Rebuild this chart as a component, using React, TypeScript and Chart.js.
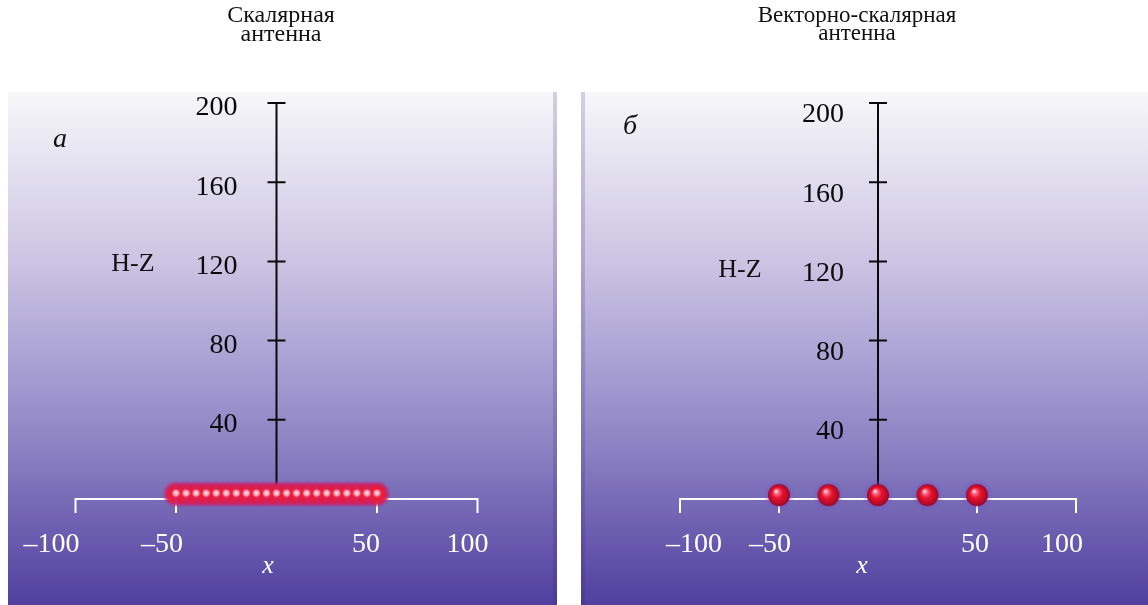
import { useEffect, useRef } from "react";
import { Chart, registerables } from "chart.js";

Chart.register(...registerables);

// ---------------- data ----------------
const TITLE_LEFT = ["Скалярная", "антенна"];
const TITLE_RIGHT = ["Векторно-скалярная", "антенна"];
const PANEL_LEFT = "а";
const PANEL_RIGHT = "б";
const Y_AXIS_LABEL = "H-Z";
const X_AXIS_LABEL = "x";

const X_TICKS = [-100, -50, 50, 100];
const X_TICK_LABELS = ["–100", "–50", "50", "100"];
const Y_TICKS = [40, 80, 120, 160, 200];
const Y_TICK_LABELS = ["40", "80", "120", "160", "200"];

// scalar antenna: 21 elements
const SCALAR_X = [-50, -45, -40, -35, -30, -25, -20, -15, -10, -5, 0, 5, 10, 15, 20, 25, 30, 35, 40, 45, 50];
const SCALAR_Y = [3, 3, 3, 3, 3, 3, 3, 3, 3, 3, 3, 3, 3, 3, 3, 3, 3, 3, 3, 3, 3];

// vector-scalar antenna: 5 elements
const VECTOR_X = [-50, -25, 0, 25, 50];
const VECTOR_Y = [2, 2, 2, 2, 2];

// ---------------- styling ----------------
const SERIF = "'Liberation Serif', 'Times New Roman', serif";
const BG_STOPS: [number, string][] = [
  [0, "#f7f7fb"],
  [0.1, "#eae8f3"],
  [0.33, "#cbc4e3"],
  [0.55, "#a59dd2"],
  [0.7, "#8b80c2"],
  [0.85, "#6d5fb0"],
  [1, "#5040a0"],
];

type PanelCfg = {
  width: number;
  padding: { left: number; right: number; top: number; bottom: number };
  bgX0: number;
  bgX1: number;
  bgTop: number;
  edgeX: number;
  title: string[];
  titleFont: number;
  titleX: number;
  titleY: number[];
  letter: string;
  letterPos: [number, number];
  hzPos: [number, number];
  yLabelDx: number;
  yLabelDy: number;
  xLabelDx: number[];
  xLabelGap: number;
  xTitlePos: [number, number];
};

const LEFT_CFG: PanelCfg = {
  width: 566,
  padding: { left: 75.5, right: 88.5, top: 103, bottom: 102 },
  bgX0: 8,
  bgX1: 557,
  bgTop: 92,
  edgeX: 553,
  title: TITLE_LEFT,
  titleFont: 24,
  titleX: 281,
  titleY: [16, 35],
  letter: PANEL_LEFT,
  letterPos: [60, 140],
  hzPos: [133, 264],
  yLabelDx: -39,
  yLabelDy: 5,
  xLabelDx: [-24, -14, -11, -10],
  xLabelGap: 46,
  xTitlePos: [268, 566],
};

const RIGHT_CFG: PanelCfg = {
  width: 574,
  padding: { left: 106, right: 72, top: 103, bottom: 102 },
  bgX0: 7,
  bgX1: 574,
  bgTop: 92,
  edgeX: 7,
  title: TITLE_RIGHT,
  titleFont: 23,
  titleX: 283,
  titleY: [16, 34],
  letter: PANEL_RIGHT,
  letterPos: [56, 127],
  hzPos: [166, 270],
  yLabelDx: -34,
  yLabelDy: 12,
  xLabelDx: [14, -9, -2, -14],
  xLabelGap: 46,
  xTitlePos: [288, 566],
};

function makeSprite(size: number, draw: (ctx: CanvasRenderingContext2D, c: number) => void) {
  const cv = document.createElement("canvas");
  cv.width = size;
  cv.height = size;
  const ctx = cv.getContext("2d")!;
  draw(ctx, size / 2);
  return cv;
}

function glowSprite() {
  return makeSprite(28, (ctx, c) => {
    const g = ctx.createRadialGradient(c, c + 1, 0, c, c + 1, 14);
    g.addColorStop(0, "rgba(240,30,55,1)");
    g.addColorStop(0.5, "rgba(232,28,58,1)");
    g.addColorStop(0.72, "rgba(210,30,90,0.85)");
    g.addColorStop(1, "rgba(170,60,170,0)");
    ctx.fillStyle = g;
    ctx.fillRect(0, 0, 28, 28);
  });
}

function dotSprite() {
  return makeSprite(9, (ctx, c) => {
    const g = ctx.createRadialGradient(c, c, 0, c, c, 4.5);
    g.addColorStop(0, "rgba(255,225,232,1)");
    g.addColorStop(0.55, "rgba(255,170,190,1)");
    g.addColorStop(1, "rgba(255,120,140,0)");
    ctx.fillStyle = g;
    ctx.fillRect(0, 0, 9, 9);
  });
}

function sphereSprite() {
  return makeSprite(32, (ctx, c) => {
    const h = ctx.createRadialGradient(c, c, 9, c, c, 16);
    h.addColorStop(0, "rgba(120,80,200,0.55)");
    h.addColorStop(1, "rgba(120,80,200,0)");
    ctx.fillStyle = h;
    ctx.fillRect(0, 0, 32, 32);
    const g = ctx.createRadialGradient(c - 3, c - 4, 0.5, c, c, 11);
    g.addColorStop(0, "#ffe8ee");
    g.addColorStop(0.16, "#ff7088");
    g.addColorStop(0.45, "#e8132f");
    g.addColorStop(0.85, "#b80a25");
    g.addColorStop(1, "#8a0a2a");
    ctx.fillStyle = g;
    ctx.beginPath();
    ctx.arc(c, c, 11, 0, Math.PI * 2);
    ctx.fill();
  });
}

function decorPlugin(cfg: PanelCfg) {
  return {
    id: "decor",
    beforeDraw(chart: any) {
      const ctx: CanvasRenderingContext2D = chart.ctx;
      ctx.save();
      ctx.fillStyle = "#ffffff";
      ctx.fillRect(0, 0, chart.width, chart.height);
      const g = ctx.createLinearGradient(0, cfg.bgTop, 0, chart.height);
      BG_STOPS.forEach(([o, c]) => g.addColorStop(o, c));
      ctx.fillStyle = g;
      ctx.fillRect(cfg.bgX0, cfg.bgTop, cfg.bgX1 - cfg.bgX0, chart.height - cfg.bgTop);
      ctx.fillStyle = "rgba(50,30,110,0.18)";
      ctx.fillRect(cfg.edgeX, cfg.bgTop, 4, chart.height - cfg.bgTop);
      // titles
      ctx.fillStyle = "#111";
      ctx.font = `${cfg.titleFont}px ${SERIF}`;
      ctx.textAlign = "center";
      ctx.textBaseline = "middle";
      cfg.title.forEach((t, i) => ctx.fillText(t, cfg.titleX, cfg.titleY[i]));
      // panel letter
      ctx.font = `italic 28px ${SERIF}`;
      ctx.fillText(cfg.letter, cfg.letterPos[0], cfg.letterPos[1]);
      // H-Z
      ctx.font = `26px ${SERIF}`;
      ctx.fillText(Y_AXIS_LABEL, cfg.hzPos[0], cfg.hzPos[1]);
      ctx.restore();
    },
    beforeDatasetsDraw(chart: any) {
      const ctx: CanvasRenderingContext2D = chart.ctx;
      const xs = chart.scales.x;
      const ys = chart.scales.y;
      const y0 = ys.getPixelForValue(0);
      const x0 = xs.getPixelForValue(0);
      ctx.save();
      // x axis (white)
      ctx.strokeStyle = "#ffffff";
      ctx.lineWidth = 2;
      ctx.beginPath();
      ctx.moveTo(xs.getPixelForValue(Math.min(...X_TICKS)), y0);
      ctx.lineTo(xs.getPixelForValue(Math.max(...X_TICKS)), y0);
      X_TICKS.forEach((v) => {
        const px = xs.getPixelForValue(v);
        ctx.moveTo(px, y0 - 1);
        ctx.lineTo(px, y0 + 14);
      });
      ctx.stroke();
      // x tick labels
      ctx.fillStyle = "#ffffff";
      ctx.font = `28px ${SERIF}`;
      ctx.textAlign = "center";
      ctx.textBaseline = "middle";
      X_TICKS.forEach((v, i) => {
        ctx.fillText(X_TICK_LABELS[i], xs.getPixelForValue(v) + cfg.xLabelDx[i], y0 + cfg.xLabelGap);
      });
      ctx.font = `italic 26px ${SERIF}`;
      ctx.fillText(X_AXIS_LABEL, cfg.xTitlePos[0], cfg.xTitlePos[1]);
      // y axis (black)
      const top = Math.max(...Y_TICKS);
      ctx.strokeStyle = "#0a0a0a";
      ctx.lineWidth = 2;
      ctx.beginPath();
      ctx.moveTo(x0, ys.getPixelForValue(top));
      ctx.lineTo(x0, y0);
      Y_TICKS.forEach((v) => {
        const py = ys.getPixelForValue(v);
        ctx.moveTo(x0 - 9, py);
        ctx.lineTo(x0 + 9, py);
      });
      ctx.stroke();
      ctx.fillStyle = "#0a0a0a";
      ctx.font = `28px ${SERIF}`;
      ctx.textAlign = "right";
      Y_TICKS.forEach((v, i) => {
        ctx.fillText(Y_TICK_LABELS[i], x0 + cfg.yLabelDx, ys.getPixelForValue(v) + cfg.yLabelDy);
      });
      ctx.restore();
    },
  };
}

function buildChart(canvas: HTMLCanvasElement, cfg: PanelCfg, datasets: any[]) {
  return new Chart(canvas, {
    type: "scatter",
    data: { datasets },
    options: {
      animation: false,
      responsive: false,
      events: [],
      layout: { padding: cfg.padding },
      plugins: { legend: { display: false }, tooltip: { enabled: false }, title: { display: false } },
      scales: {
        x: { type: "linear", min: -100, max: 100, display: false },
        y: { type: "linear", min: -2, max: 200, display: false },
      },
    },
    plugins: [decorPlugin(cfg)],
  } as any);
}

export default function App() {
  const leftRef = useRef<HTMLCanvasElement>(null);
  const rightRef = useRef<HTMLCanvasElement>(null);

  useEffect(() => {
    const scalarPts = SCALAR_X.map((x, i) => ({ x, y: SCALAR_Y[i] }));
    const vectorPts = VECTOR_X.map((x, i) => ({ x, y: VECTOR_Y[i] }));
    const glow = glowSprite();
    const dot = dotSprite();
    const sphere = sphereSprite();

    const left = buildChart(leftRef.current!, LEFT_CFG, [
      { label: "scalar-highlight", data: scalarPts, pointStyle: dot, clip: false, showLine: false },
      { label: "scalar", data: scalarPts, pointStyle: glow, clip: false, showLine: false },
    ]);
    const right = buildChart(rightRef.current!, RIGHT_CFG, [
      { label: "vector-scalar", data: vectorPts, pointStyle: sphere, clip: false, showLine: false },
    ]);
    return () => {
      left.destroy();
      right.destroy();
    };
  }, []);

  return (
    <div style={{ position: "fixed", left: 0, top: 0, width: 1148, height: 605, background: "#fff", overflow: "hidden" }}>
      <canvas ref={leftRef} width={566} height={605} style={{ position: "absolute", left: 0, top: 0, width: 566, height: 605 }} />
      <canvas ref={rightRef} width={574} height={605} style={{ position: "absolute", left: 574, top: 0, width: 574, height: 605 }} />
    </div>
  );
}
